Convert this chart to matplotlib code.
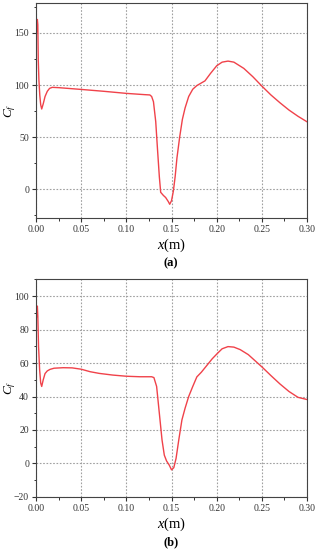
import matplotlib
matplotlib.use("Agg")
import matplotlib.pyplot as plt
from matplotlib.ticker import MultipleLocator

# Panel (a) data
xa = [0.0004, 0.0010, 0.0015, 0.0020, 0.0025, 0.0032, 0.0042, 0.0052, 0.0063, 0.008, 0.010,
      0.0125, 0.015, 0.018, 0.025, 0.05, 0.075, 0.10, 0.12, 0.126, 0.128, 0.130,
      0.1325, 0.1345, 0.1365, 0.138, 0.141, 0.1435, 0.1465, 0.148, 0.150, 0.152,
      0.154, 0.156, 0.159, 0.162, 0.165, 0.169, 0.1735, 0.178, 0.182, 0.187,
      0.193, 0.200, 0.206, 0.2125, 0.219, 0.23, 0.24, 0.25, 0.26, 0.27, 0.28,
      0.29, 0.30]
ya = [150, 156, 163, 158, 124, 105, 90, 81, 77, 82, 89,
      94, 96.8, 97.8, 97.5, 95.8, 94, 92, 90.8, 90.5, 89, 84,
      65, 38, 12, -3, -6, -8, -12, -14.5, -11, -2,
      12, 30, 50, 67, 78, 89, 96, 99.5, 101.5, 104,
      111, 118.5, 122, 123, 122, 116, 108, 99, 90.5, 83, 76,
      70, 64.7]

# Panel (b) data
xb = [0.0004, 0.0010, 0.0015, 0.0020, 0.0028, 0.004, 0.0052, 0.0063, 0.008, 0.010,
      0.0125, 0.0155, 0.02, 0.03, 0.04, 0.05, 0.06, 0.07, 0.085, 0.10, 0.115,
      0.128, 0.1305, 0.1335, 0.1365, 0.1395, 0.142, 0.1445, 0.1475, 0.150,
      0.1525, 0.155, 0.158, 0.1615, 0.165, 0.169, 0.1735, 0.178, 0.183, 0.189,
      0.195, 0.2005, 0.206, 0.2125, 0.219, 0.226, 0.235, 0.25, 0.26, 0.27,
      0.28, 0.29, 0.30]
yb = [87, 90, 94, 88, 70, 56, 48, 46, 50, 53.7,
      55.3, 56.2, 56.9, 57.2, 57.1, 56.3, 54.8, 53.8, 52.8, 52.1, 51.8,
      51.8, 51.3, 46, 30, 14, 5, 1.5, -1, -3.8,
      -2.5, 3, 14, 26, 33, 40, 46, 51.7, 54.5, 58.5,
      62.5, 65.6, 68.5, 69.8, 69.5, 68, 65, 57.7, 52.5, 47.5,
      43, 39.5, 38.2]

xticks = [0.00, 0.05, 0.10, 0.15, 0.20, 0.25, 0.30]
xticklabels = ["0.00", "0.05", "0.10", "0.15", "0.20", "0.25", "0.30"]
yticks_a = [0, 50, 100, 150]
yticks_b = [-20, 0, 20, 40, 60, 80, 100]

plt.rcParams['font.family'] = ['Liberation Serif', 'DejaVu Serif']
plt.rcParams['mathtext.fontset'] = 'custom'
plt.rcParams['mathtext.rm'] = 'Liberation Serif'
plt.rcParams['mathtext.it'] = 'Liberation Serif:italic'

fig = plt.figure(figsize=(3.17, 5.50), dpi=100)
ax_a = fig.add_axes([0.1136, 0.603, 0.855, 0.391])
ax_b = fig.add_axes([0.1136, 0.0964, 0.855, 0.3958])

line_color = '#f0424a'
for ax, x, y, yt, ylim, ymin in [(ax_a, xa, ya, yticks_a, (-28, 178.5), 25),
                                  (ax_b, xb, yb, yticks_b, (-20, 110), 10)]:
    ax.plot(x, y, color=line_color, lw=1.0)
    ax.set_xlim(0, 0.30)
    ax.set_ylim(*ylim)
    ax.set_xticks(xticks)
    ax.set_xticklabels(xticklabels)
    ax.set_yticks(yt)
    ax.xaxis.set_minor_locator(MultipleLocator(0.025))
    ax.yaxis.set_minor_locator(MultipleLocator(ymin))
    ax.grid(True, which='major', color='#a0a0a0', linestyle=(0, (1.5, 1.5)), lw=0.8)
    ax.tick_params(which='major', direction='out', length=3, width=0.8, labelsize=7,
                   colors='#333333', pad=2)
    ax.tick_params(which='minor', direction='out', length=1.8, width=0.7, colors='#333333')
    ax.tick_params(top=False, right=False)
    for s in ax.spines.values():
        s.set_color('#444444')
        s.set_linewidth(0.8)
    ax.set_ylabel(r'$C_f$', fontsize=9.5)
    ax.yaxis.set_label_coords(-0.065, 0.5)
    ax.set_xlabel(r'$x$(m)', fontsize=10.5, labelpad=2)

fig.text(0.540, 1 - 263 / 550, '(a)', ha='center', va='center', fontsize=9, fontweight='bold')
fig.text(0.540, 1 - 542 / 550, '(b)', ha='center', va='center', fontsize=9, fontweight='bold')

fig.savefig('out.png', dpi=100)
